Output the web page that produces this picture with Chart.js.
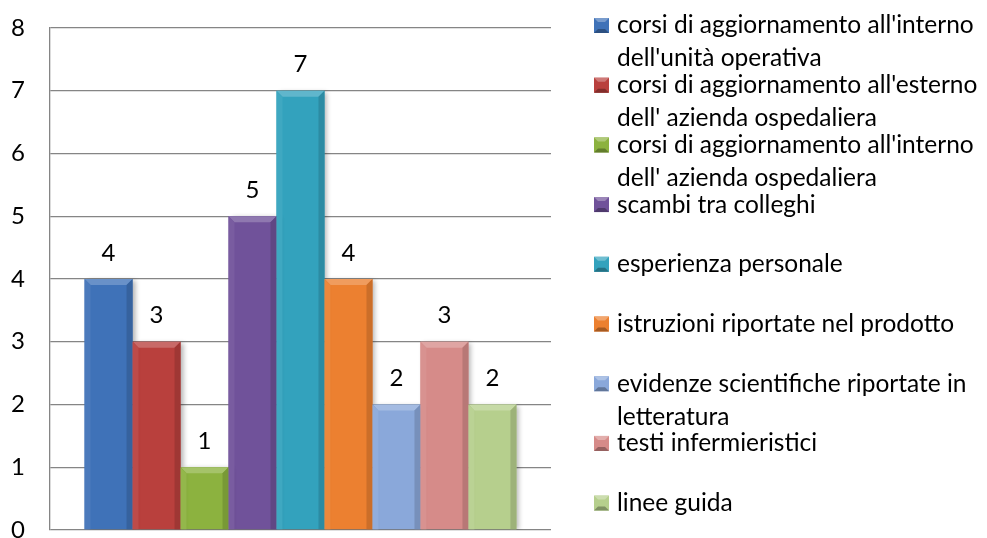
<!DOCTYPE html>
<html>
<head>
<meta charset="utf-8">
<script src="https://cdn.jsdelivr.net/npm/chart.js@4.4.1/dist/chart.umd.min.js"></script>
<style>
  html, body { margin: 0; padding: 0; background: #fff; }
  #wrap { width: 987px; height: 538px; }
</style>
</head>
<body>
<div id="wrap"><canvas id="chart"></canvas></div>
<script>
const categories = [""];

const seriesLabels = [
  ["corsi di aggiornamento all'interno", "dell'unità operativa"],
  ["corsi di aggiornamento all'esterno", "dell' azienda ospedaliera"],
  ["corsi di aggiornamento all'interno", "dell' azienda ospedaliera"],
  ["scambi tra colleghi"],
  ["esperienza personale"],
  ["istruzioni riportate nel prodotto"],
  ["evidenze scientifiche riportate in", "letteratura"],
  ["testi infermieristici"],
  ["linee guida"],
];

const seriesValues = [4, 3, 1, 5, 7, 4, 2, 3, 2];

const seriesColors = [
  "#3f72b8", "#b9403d", "#8cb23f", "#70529a", "#33a2bd",
  "#ec8030", "#8aa8da", "#d68b89", "#b6cf8d",
];

const yMin = 0;
const yMax = 8;

const FONT = "Lato, 'Noto Sans', sans-serif";

function shade(hex, amt) {
  const n = parseInt(hex.slice(1), 16);
  let r = (n >> 16) & 255, g = (n >> 8) & 255, b = n & 255;
  const f = v => Math.max(0, Math.min(255, Math.round(amt < 0 ? v * (1 + amt) : v + (255 - v) * amt)));
  return `rgb(${f(r)},${f(g)},${f(b)})`;
}

// soft drop shadow under the bars
const shadowPlugin = {
  id: "barShadow",
  beforeDatasetDraw(chart) {
    const c = chart.ctx;
    c.shadowColor = "rgba(0,0,0,0.3)";
    c.shadowBlur = 5;
    c.shadowOffsetX = 3;
    c.shadowOffsetY = 1;
  },
  afterDatasetDraw(chart) {
    const c = chart.ctx;
    c.shadowColor = "transparent";
    c.shadowBlur = 0;
    c.shadowOffsetX = 0;
    c.shadowOffsetY = 0;
  },
};

// bevel look + value labels on top of the bars
const bevelPlugin = {
  id: "bevel",
  afterDatasetsDraw(chart) {
    const c = chart.ctx;
    chart.data.datasets.forEach((ds, i) => {
      const meta = chart.getDatasetMeta(i);
      meta.data.forEach((bar, j) => {
        const w = bar.width;
        const l = bar.x - w / 2, r = bar.x + w / 2;
        const t = bar.y, b = bar.base;
        const bv = 6;
        c.save();
        // top facet
        c.fillStyle = shade(ds.backgroundColor, 0.22);
        c.beginPath();
        c.moveTo(l, t); c.lineTo(r, t); c.lineTo(r - bv, t + bv); c.lineTo(l + bv, t + bv);
        c.closePath(); c.fill();
        // left facet
        c.fillStyle = shade(ds.backgroundColor, 0.06);
        c.beginPath();
        c.moveTo(l, t); c.lineTo(l + bv, t + bv); c.lineTo(l + bv, b); c.lineTo(l, b);
        c.closePath(); c.fill();
        // right facet
        c.fillStyle = shade(ds.backgroundColor, -0.14);
        c.beginPath();
        c.moveTo(r, t); c.lineTo(r - bv, t + bv); c.lineTo(r - bv, b); c.lineTo(r, b);
        c.closePath(); c.fill();

        c.fillStyle = "#000";
        c.font = `24px ${FONT}`;
        c.textAlign = "center";
        c.textBaseline = "middle";
        c.fillText(String(ds.data[j]), bar.x, t - 26);
        c.restore();
      });
    });
  },
};

// legend on the right, with wrapped labels
const legendPlugin = {
  id: "sideLegend",
  afterDraw(chart) {
    const c = chart.ctx;
    const x0 = 594, y0 = 25.5, step = 59.7, lineH = 33, box = 15;
    c.save();
    c.font = `24.5px ${FONT}`;
    c.textAlign = "left";
    c.textBaseline = "middle";
    chart.data.datasets.forEach((ds, i) => {
      const cy = y0 + i * step;
      const col = ds.backgroundColor;
      const bx = x0, by = cy - box / 2;
      c.fillStyle = col;
      c.fillRect(bx, by, box, box);
      const bv = 4;
      c.fillStyle = shade(col, 0.3);
      c.beginPath(); c.moveTo(bx, by); c.lineTo(bx + box, by); c.lineTo(bx + box - bv, by + bv); c.lineTo(bx + bv, by + bv); c.closePath(); c.fill();
      c.fillStyle = shade(col, -0.3);
      c.beginPath(); c.moveTo(bx, by + box); c.lineTo(bx + box, by + box); c.lineTo(bx + box - bv, by + box - bv); c.lineTo(bx + bv, by + box - bv); c.closePath(); c.fill();
      c.fillStyle = "#000";
      ds.label.forEach((line, k) => c.fillText(line, 617, cy + k * lineH));
    });
    c.restore();
  },
};

const datasets = seriesValues.map((v, i) => ({
  label: seriesLabels[i],
  data: [v],
  backgroundColor: seriesColors[i],
  borderWidth: 0,
}));

new Chart(document.getElementById("chart"), {
  type: "bar",
  data: { labels: categories, datasets },
  options: {
    responsive: true,
    maintainAspectRatio: false,
    animation: false,
    layout: { padding: { left: 11, right: 436, top: 28, bottom: 8 } },
    datasets: { bar: { categoryPercentage: 0.862, barPercentage: 1 } },
    plugins: { legend: { display: false }, tooltip: { enabled: false } },
    scales: {
      x: { display: false },
      y: {
        min: yMin,
        max: yMax,
        ticks: {
          stepSize: 1,
          color: "#000",
          font: { family: FONT, size: 24 },
          crossAlign: "far",
          padding: 0,
        },
        grid: { color: "#858585", lineWidth: 1.3, drawTicks: false },
        border: { display: true, color: "#858585", width: 1.3 },
        afterFit(scale) {
          scale.width = 39;
          scale.paddingTop = 0;
          scale.paddingBottom = 0;
        },
      },
    },
  },
  plugins: [shadowPlugin, bevelPlugin, legendPlugin],
});
</script>
</body>
</html>
